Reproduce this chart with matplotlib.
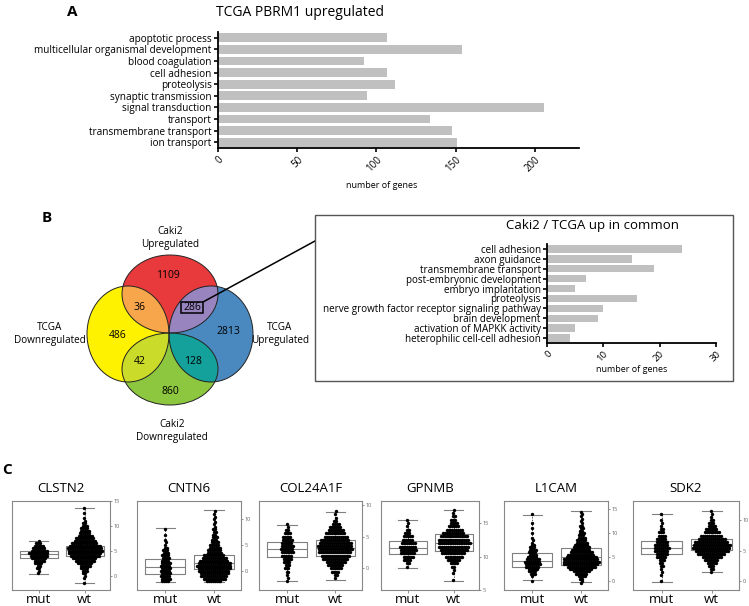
import numpy as np
import matplotlib
matplotlib.use('Agg')
import matplotlib.pyplot as plt
from matplotlib.patches import Ellipse, Rectangle

plt.rcParams['font.family'] = ['Open Sans', 'DejaVu Sans']

W, H = 749, 606

# ---------------- panel A: GO terms, TCGA PBRM1 upregulated
a_terms = ['apoptotic process', 'multicellular organismal development',
           'blood coagulation', 'cell adhesion', 'proteolysis',
           'synaptic transmission', 'signal transduction', 'transport',
           'transmembrane transport', 'ion transport']
a_counts = [107, 154, 92, 107, 112, 94, 206, 134, 148, 151]
a_ticks = [0, 50, 100, 150, 200]

# ---------------- panel B: venn counts and common GO terms
venn_sets = ['Caki2\nUpregulated', 'TCGA\nDownregulated',
             'TCGA\nUpregulated', 'Caki2\nDownregulated']
venn_counts = {'caki_up': 1109, 'tcga_down': 486, 'tcga_up': 2813,
               'caki_down': 860, 'caki_up&tcga_down': 36,
               'caki_up&tcga_up': 286, 'tcga_down&caki_down': 42,
               'tcga_up&caki_down': 128}

b_terms = ['cell adhesion', 'axon guidance', 'transmembrane transport',
           'post-embryonic development', 'embryo implantation', 'proteolysis',
           'nerve growth factor receptor signaling pathway',
           'brain development', 'activation of MAPKK activity',
           'heterophilic cell-cell adhesion']
b_counts = [24, 15, 19, 7, 5, 16, 10, 9, 5, 4]
b_ticks = [0, 10, 20, 30]

# ---------------- panel C: expression, mut vs wt
genes = ['CLSTN2', 'CNTN6', 'COL24A1F', 'GPNMB', 'L1CAM', 'SDK2']
groups = ['mut', 'wt']

# box stats: whisker low, q1, median, q3, whisker high
box_mut = {'CLSTN2': [0.4, 3.5, 4.3, 4.9, 7.0],
           'CNTN6': [-2.1, -0.65, 0.65, 2.25, 8.2],
           'COL24A1F': [-2.0, 1.8, 3.0, 4.2, 6.9],
           'GPNMB': [8.3, 10.35, 11.25, 12.3, 15.4],
           'L1CAM': [0.2, 3.0, 4.2, 5.8, 13.8],
           'SDK2': [-0.1, 4.4, 5.5, 6.6, 11.1]}
box_wt = {'CLSTN2': [-1.5, 4.0, 5.1, 6.0, 13.5],
          'CNTN6': [-2.1, 0.3, 1.6, 3.0, 11.7],
          'COL24A1F': [-1.75, 1.95, 3.15, 4.5, 8.9],
          'GPNMB': [6.4, 10.9, 11.95, 13.3, 16.9],
          'L1CAM': [-0.3, 3.4, 5.0, 6.8, 14.6],
          'SDK2': [1.5, 5.1, 5.9, 6.9, 11.5]}

# points per 0.5-unit expression bin, counted from the lowest bin upward
swarm_start_mut = {'CLSTN2': 0.5, 'CNTN6': -2.0, 'COL24A1F': -2.0,
                   'GPNMB': 8.5, 'L1CAM': 0.0, 'SDK2': 0.0}
swarm_start_wt = {'CLSTN2': -1.5, 'CNTN6': -2.0, 'COL24A1F': -1.5,
                  'GPNMB': 6.5, 'L1CAM': -0.5, 'SDK2': 1.5}
swarm_mut = {
    'CLSTN2': [1, 1, 2, 2, 4, 6, 8, 10, 11, 9, 7, 5, 3, 1],
    'CNTN6': [4, 5, 5, 5, 5, 5, 5, 5, 4, 4, 4, 3, 3, 2, 1, 1, 1, 0, 1, 0, 1],
    'COL24A1F': [1, 1, 1, 2, 3, 3, 4, 5, 6, 7, 7, 7, 6, 6, 5, 4, 2, 1, 1],
    'GPNMB': [1, 2, 4, 6, 8, 9, 9, 8, 6, 5, 3, 2, 1, 1, 1],
    'L1CAM': [1, 0, 1, 3, 4, 5, 7, 8, 8, 7, 5, 4, 4, 4, 3, 2, 1, 1, 1, 0,
              1, 0, 1, 0, 1, 0, 0, 0, 1],
    'SDK2': [1, 0, 1, 1, 1, 2, 2, 3, 5, 6, 7, 8, 7, 6, 5, 4, 3, 2, 1, 1,
             1, 0, 1],
}
swarm_wt = {
    'CLSTN2': [1, 0, 1, 1, 2, 3, 4, 6, 8, 11, 13, 16, 18, 19, 19, 17, 14,
               12, 10, 8, 6, 5, 4, 3, 2, 1, 1, 0, 1, 0, 1],
    'CNTN6': [8, 12, 14, 15, 16, 17, 18, 17, 15, 13, 11, 8, 7, 6, 5, 4, 3,
              3, 2, 2, 2, 1, 1, 1, 1, 1, 1, 1],
    'COL24A1F': [1, 2, 4, 6, 8, 10, 13, 15, 17, 18, 18, 17, 15, 12, 10, 8,
                 6, 4, 2, 1, 1, 1],
    'GPNMB': [1, 0, 1, 1, 2, 4, 7, 10, 13, 15, 17, 18, 17, 15, 12, 9, 6, 4,
              3, 2, 1, 1],
    'L1CAM': [1, 1, 2, 4, 6, 9, 12, 15, 18, 19, 18, 16, 14, 12, 10, 9, 7,
              6, 5, 4, 3, 3, 2, 2, 2, 1, 1, 1, 1, 1, 1],
    'SDK2': [1, 2, 3, 5, 7, 10, 14, 17, 19, 19, 17, 14, 11, 8, 6, 4, 3, 2,
             1, 1, 1],
}
c_ylim = {'CLSTN2': (-2.9, 15.0), 'CNTN6': (-3.7, 13.5),
          'COL24A1F': (-3.4, 10.6), 'GPNMB': (5.05, 18.3),
          'L1CAM': (-1.9, 16.7), 'SDK2': (-1.5, 13.2)}
c_yticks = {'CLSTN2': [0, 5, 10, 15], 'CNTN6': [0, 5, 10],
            'COL24A1F': [0, 5, 10], 'GPNMB': [5, 10, 15],
            'L1CAM': [0, 5, 10, 15], 'SDK2': [0, 5, 10]}


def rect(l, t, r, b):
    # pixel box -> figure fraction
    return [l / W, 1 - b / H, (r - l) / W, (b - t) / H]


fig = plt.figure(figsize=(W / 100, H / 100), dpi=100)

# background layer in pixel coordinates for venn, labels and callout
bg = fig.add_axes([0, 0, 1, 1])
bg.set_xlim(0, W)
bg.set_ylim(H, 0)
bg.axis('off')

for s, x, y in [('A', 72, 12), ('B', 47, 218), ('C', 7, 470)]:
    bg.text(x, y, s, fontsize=11, fontweight='bold', ha='center', va='center')


def hbar_panel(ax, terms, counts, ticks, xmax, fs, tfs):
    ypos = np.arange(len(terms))[::-1]
    ax.barh(ypos, counts, height=0.75, color='#c0c0c0')
    ax.set_yticks(ypos)
    ax.set_yticklabels(terms, fontsize=fs)
    ax.set_ylim(-0.5, len(terms) - 0.5)
    ax.set_xlim(0, xmax)
    ax.set_xticks(ticks)
    ax.set_xticklabels([str(t) for t in ticks], rotation=45, ha='right',
                       va='top', rotation_mode='anchor', fontsize=tfs)
    for sp in ['top', 'right']:
        ax.spines[sp].set_visible(False)
    for sp in ['left', 'bottom']:
        ax.spines[sp].set_linewidth(1.3)
    ax.tick_params(length=3, width=1.2, pad=1.5)


# ---- panel A
axA = fig.add_axes(rect(218, 32, 579, 148))
hbar_panel(axA, a_terms, a_counts, a_ticks, 228, 7.2, 7)
bg.text(300, 12, 'TCGA PBRM1 upregulated', fontsize=10, ha='center', va='center')
bg.text(382, 185, 'number of genes', fontsize=6.5, ha='center', va='center')

# ---- panel B venn
ell = {'caki_up': ((170, 294), 96, 78, '#e83a3c'),
       'tcga_down': ((128, 334), 82, 96, '#fff200'),
       'tcga_up': ((211, 334), 84, 96, '#4a89c0'),
       'caki_down': ((170, 369), 96, 72, '#8dc63f')}
for k, (c, w, h, col) in ell.items():
    bg.add_patch(Ellipse(c, w, h, facecolor=col, edgecolor='none', zorder=1))
overlap_col = {'caki_up&tcga_down': '#f8a64b', 'caki_up&tcga_up': '#9884be',
               'tcga_down&caki_down': '#cbdb2a', 'tcga_up&caki_down': '#14a09b'}
for k, col in overlap_col.items():
    a, b = k.split('&')
    ca, wa, ha, _ = ell[a]
    cb, wb, hb, _ = ell[b]
    p = Ellipse(ca, wa, ha, facecolor=col, edgecolor='none', zorder=2)
    bg.add_patch(p)
    clip = Ellipse(cb, wb, hb, transform=bg.transData)
    p.set_clip_path(clip)
for k, (c, w, h, col) in ell.items():
    bg.add_patch(Ellipse(c, w, h, facecolor='none', edgecolor='#222222',
                         lw=0.7, zorder=3))

venn_pos = {'caki_up': (168, 276), 'tcga_down': (118, 335),
            'tcga_up': (228, 332), 'caki_down': (170, 392),
            'caki_up&tcga_down': (140, 307), 'caki_up&tcga_up': (192, 307),
            'tcga_down&caki_down': (140, 362), 'tcga_up&caki_down': (193, 362)}
for k, v in venn_counts.items():
    x, y = venn_pos[k]
    bg.text(x, y, str(v), fontsize=7.5, ha='center', va='center', zorder=5)
for s, (x, y) in zip(venn_sets, [(170, 238), (50, 334), (280, 334), (172, 431)]):
    bg.text(x, y, s, fontsize=7.2, ha='center', va='center', linespacing=1.2)

bg.add_patch(Rectangle((181, 302), 22, 11, facecolor='none', edgecolor='black',
                       lw=1.1, zorder=6))
bg.plot([203, 315], [302, 241], color='black', lw=1.1, zorder=6)
bg.add_patch(Rectangle((315, 215), 418, 166, facecolor='none',
                       edgecolor='#555555', lw=1.0, zorder=6))

axB = fig.add_axes(rect(547, 244, 716, 343))
hbar_panel(axB, b_terms, b_counts, b_ticks, 30, 7.1, 6.8)
bg.text(592, 226, 'Caki2 / TCGA up in common', fontsize=9.5, ha='center',
        va='center')
bg.text(632, 370, 'number of genes', fontsize=6.5, ha='center', va='center')

# ---- panel C
c_boxes = [(12, 110), (137, 241), (259, 362), (381, 479), (504, 608), (633, 739)]
dx = 0.04
for g, (l, r) in zip(genes, c_boxes):
    ax = fig.add_axes(rect(l, 501, r, 590))
    stats = []
    for lab, b in zip(groups, [box_mut[g], box_wt[g]]):
        stats.append({'label': lab, 'whislo': b[0], 'q1': b[1], 'med': b[2],
                      'q3': b[3], 'whishi': b[4]})
    ax.bxp(stats, positions=[1, 2], widths=0.82, capwidths=0.4,
           showfliers=False,
           boxprops=dict(color='#808080', lw=0.8),
           medianprops=dict(color='#808080', lw=0.8),
           whiskerprops=dict(color='#333333', lw=0.6, ls=(0, (1.5, 1.5))),
           capprops=dict(color='#808080', lw=0.8))
    for pos, start, counts in [(1, swarm_start_mut[g], swarm_mut[g]),
                               (2, swarm_start_wt[g], swarm_wt[g])]:
        xs, ys = [], []
        for i, n in enumerate(counts):
            shift = 0.25 * dx if i % 2 else -0.25 * dx
            xs.extend(pos + shift + (np.arange(n) - (n - 1) / 2) * dx)
            ys.extend([start + 0.5 * i] * n)
        ax.scatter(xs, ys, s=6, c='black', linewidths=0, zorder=4)
    ax.set_xlim(0.42, 2.55)
    ax.set_ylim(*c_ylim[g])
    ax.set_xticks([1, 2])
    ax.set_xticklabels(groups, fontsize=9.5)
    ax.yaxis.tick_right()
    ax.set_yticks(c_yticks[g])
    ax.tick_params(axis='y', labelsize=4, colors='#666666', length=1.5,
                   width=0.5, pad=1)
    ax.tick_params(axis='x', length=2, width=0.5, color='#666666', pad=0.5)
    for sp in ax.spines.values():
        sp.set_color('#888888')
        sp.set_linewidth(0.8)
    bg.text((l + r) / 2, 488, g, fontsize=9.5, ha='center', va='center')

fig.savefig('out.png', dpi=100)
